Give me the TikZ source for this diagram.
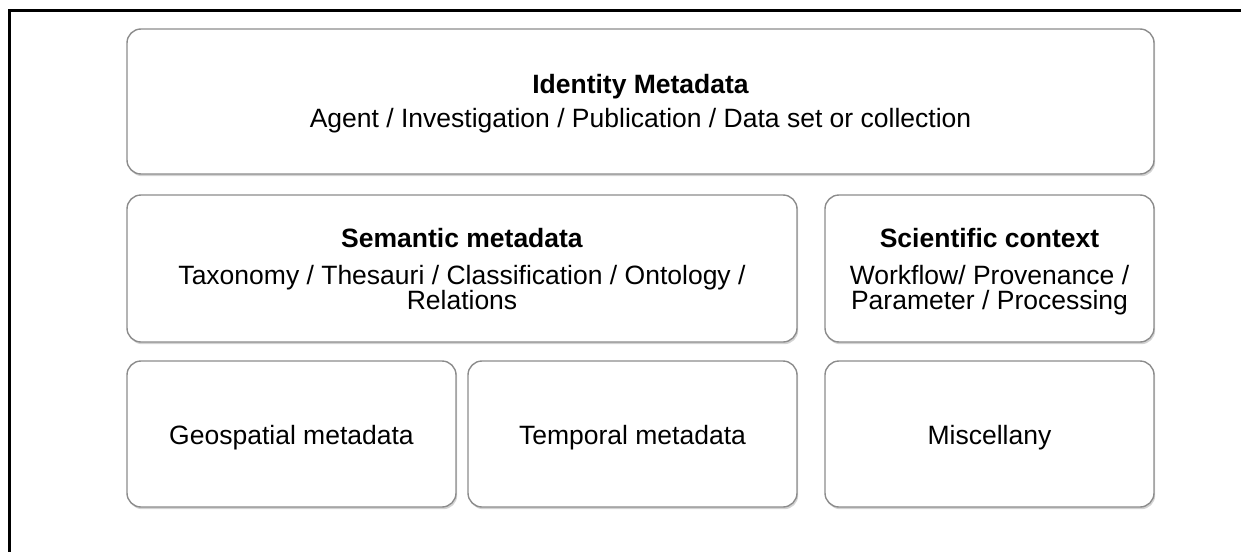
\documentclass[tikz,border=0pt]{standalone}
\usepackage{fontspec}
\setmainfont{Liberation Sans}
\usetikzlibrary{shadows}
\tikzset{
  panel/.style={draw=black!45, line width=1.4pt, fill=white, rounded corners=14pt,
    drop shadow={opacity=0.35, shadow xshift=1.2pt, shadow yshift=-2.2pt},
    inner sep=0pt},
  label/.style={anchor=base, inner sep=0pt, font=\fontsize{26.5}{27}\selectfont},
  heading/.style={label, font=\fontsize{26.5}{27}\selectfont\bfseries},
  frame/.style={line width=2.6pt, black}
}
\newcommand{\panelbox}[5]{%
  % #1 name, #2 left, #3 top, #4 right, #5 bottom
  \node[panel, minimum width={#4-#2}, minimum height={#5-#3}]
    (#1) at ({(#2+#4)/2},{(#3+#5)/2}) {};}
\begin{document}
\begin{tikzpicture}[x=1pt,y=-1pt]
  \useasboundingbox (0,0) rectangle (1241,551);
  % open frame: top and left edges only
  \draw[frame] (1245,10.5) -- (9.5,10.5) -- (9.5,555);
  % panels
  \panelbox{identity}{127}{29}{1154}{174}
  \panelbox{semantic}{127}{195}{797}{342}
  \panelbox{scientific}{825}{195}{1154}{342}
  \panelbox{geospatial}{127}{361}{456}{507}
  \panelbox{temporal}{468}{361}{797}{507}
  \panelbox{misc}{825}{361}{1154}{507}
  % panel texts, placed on their baselines
  \node[heading] (identityT) at (identity.center |- 0,93) {Identity Metadata};
  \node[label] (identityL) at (identity.center |- 0,127) {Agent / Investigation / Publication / Data set or collection};
  \node[heading] (semanticT) at (semantic.center |- 0,247) {Semantic metadata};
  \node[label] (semanticL1) at (semantic.center |- 0,284) {Taxonomy / Thesauri / Classification / Ontology /};
  \node[label] (semanticL2) at (semantic.center |- 0,309) {Relations};
  \node[heading] (scientificT) at (scientific.center |- 0,247) {Scientific context};
  \node[label] (scientificL1) at (scientific.center |- 0,284) {Workflow/ Provenance /};
  \node[label] (scientificL2) at (scientific.center |- 0,309) {Parameter / Processing};
  \node[label] (geospatialT) at (geospatial.center |- 0,444) {Geospatial metadata};
  \node[label] (temporalT) at (temporal.center |- 0,444) {Temporal metadata};
  \node[label] (miscT) at (misc.center |- 0,444) {Miscellany};
\end{tikzpicture}
\end{document}
